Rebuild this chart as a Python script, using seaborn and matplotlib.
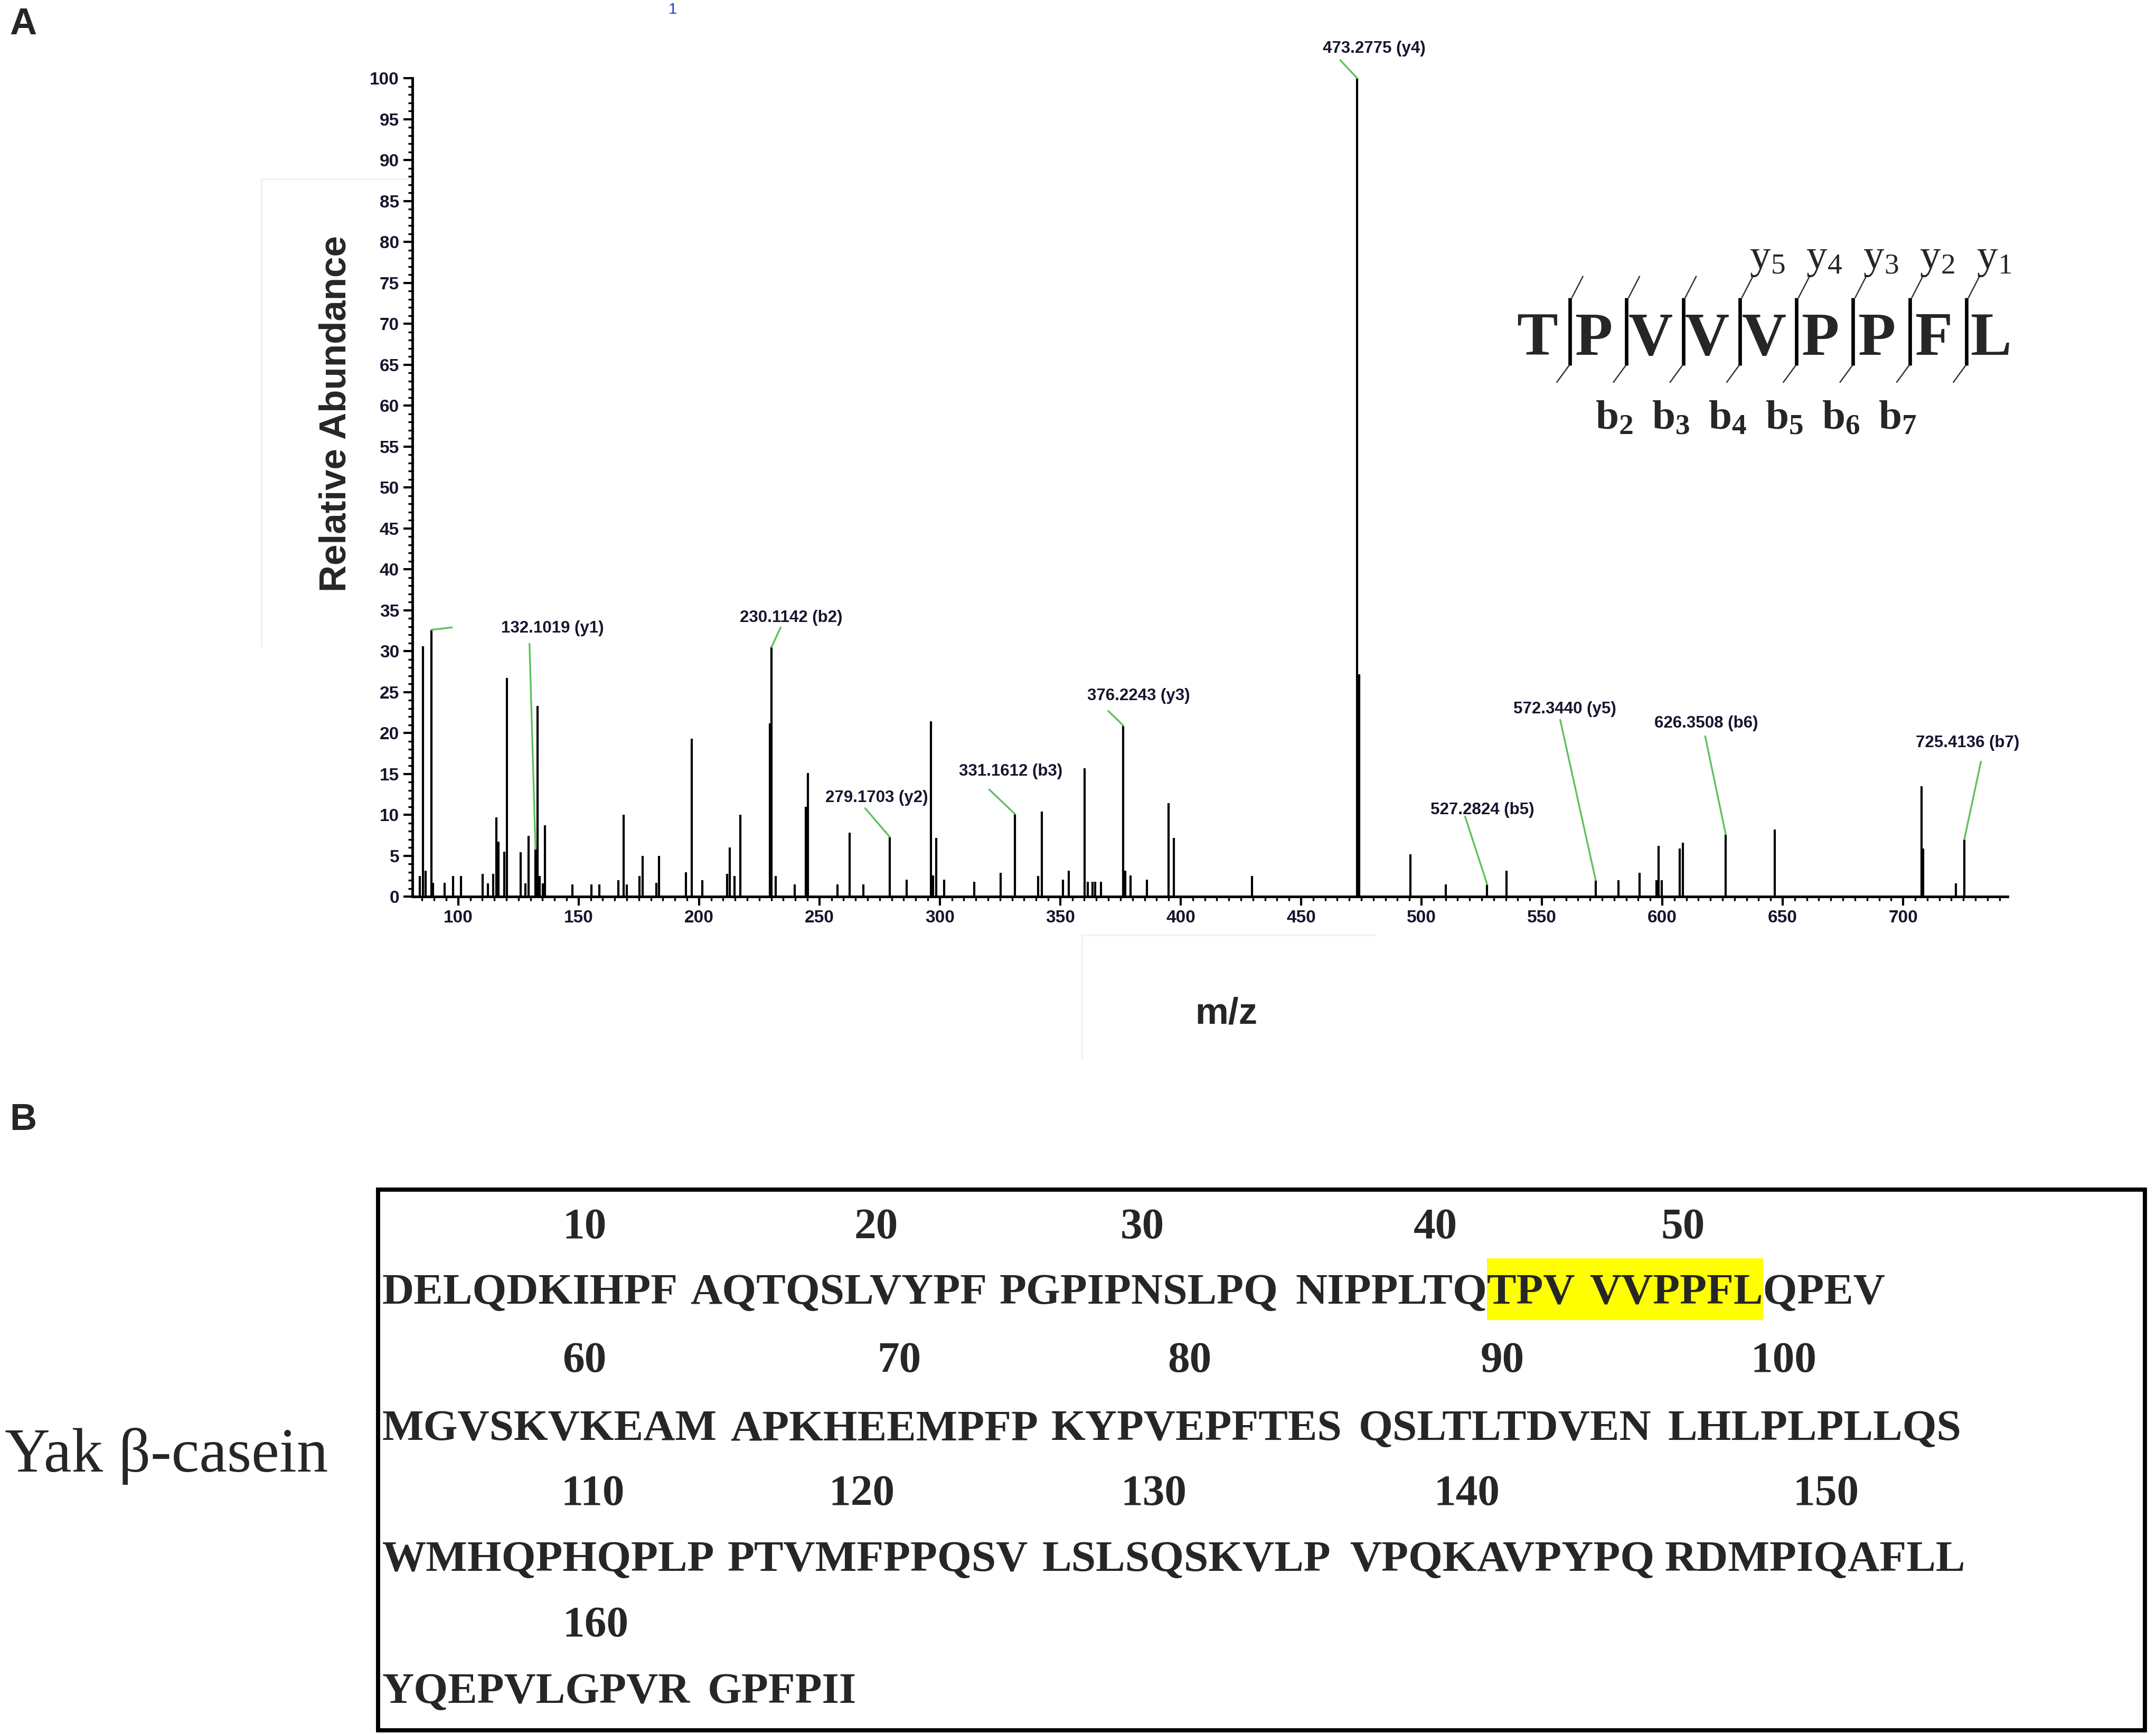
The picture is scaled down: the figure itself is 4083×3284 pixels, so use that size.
import matplotlib
matplotlib.use('Agg')
import numpy as np
import pandas as pd
import matplotlib.pyplot as plt
from matplotlib.patches import Rectangle
import seaborn as sns

# ---- panel A data: MS/MS spectrum peaks (m/z, relative abundance) ----
mz = [84.0, 85.4, 86.4, 88.9, 89.6, 94.4, 97.8, 101.1, 110.1, 112.3, 114.5, 115.8, 116.8,
      119.1, 120.3, 125.9, 127.9, 129.3, 132.1019, 132.9, 133.8, 135.1, 136.0, 147.4,
      155.3, 158.5, 166.5, 168.7, 169.9, 175.3, 176.5, 182.2, 183.4, 194.6, 196.9, 201.3,
      211.7, 212.7, 214.8, 217.2, 229.4, 230.1142, 231.8, 239.8, 244.4, 245.3, 257.4,
      262.6, 268.3, 279.1703, 286.3, 296.3, 297.2, 298.5, 301.8, 314.2, 325.3, 331.1612,
      340.8, 342.3, 351.1, 353.5, 360.1, 361.4, 363.5, 364.5, 366.8, 376.2243, 377.1,
      379.2, 385.9, 395.0, 397.2, 429.7, 473.2775, 474.1, 495.5, 510.0, 527.2824, 535.4,
      572.3440, 581.8, 590.6, 597.6, 598.5, 599.7, 607.3, 608.6, 626.3508, 646.8, 707.6,
      708.4, 722.0, 725.4136]
abundance = [2.5, 30.6, 3.2, 32.6, 1.7, 1.7, 2.5, 2.5, 2.8, 1.6, 2.8, 9.7, 6.7,
             5.5, 26.7, 5.4, 1.6, 7.4, 5.8, 23.3, 2.5, 1.6, 8.7, 1.5,
             1.5, 1.5, 2.0, 10.0, 1.5, 2.5, 5.0, 1.7, 5.0, 3.0, 19.3, 2.0,
             2.8, 6.0, 2.5, 10.0, 21.2, 30.5, 2.5, 1.5, 11.0, 15.1, 1.5,
             7.8, 1.5, 7.3, 2.1, 21.4, 2.6, 7.2, 2.1, 1.8, 2.9, 10.1,
             2.5, 10.4, 2.1, 3.2, 15.7, 1.8, 1.8, 1.8, 1.8, 20.9, 3.2,
             2.6, 2.1, 11.4, 7.2, 2.5, 100.0, 27.2, 5.2, 1.5, 1.5, 3.2,
             2.0, 2.0, 2.9, 2.0, 6.2, 2.0, 5.9, 6.6, 7.6, 8.2, 13.5,
             5.9, 1.6, 7.0]

# labelled fragment ions
ion_mz = [132.1019, 230.1142, 279.1703, 331.1612, 376.2243, 473.2775,
          527.2824, 572.3440, 626.3508, 725.4136]
ion_name = ['y1', 'b2', 'y2', 'b3', 'y3', 'y4', 'b5', 'y5', 'b6', 'b7']
# label centre and leader-line end, data coords
label_xy = [(139.2, 32.8), (238.2, 34.1), (273.7, 12.1), (329.5, 15.3), (382.6, 24.5),
            (480.3, 103.6), (525.3, 10.6), (559.5, 22.9), (618.3, 21.2), (726.8, 18.8)]
leader_end = [(129.6, 30.9), (233.9, 32.9), (269.0, 10.8), (320.5, 13.1), (369.9, 22.7),
              (466.3, 102.2), (518.1, 9.8), (557.6, 21.6), (617.8, 19.6), (732.3, 16.5)]

# ---- peptide fragment map ----
peptide = 'TPVVVPPFL'
y_ions = [5, 4, 3, 2, 1]
b_ions = [2, 3, 4, 5, 6, 7]

# ---- panel B: yak beta-casein sequence ----
casein = ('DELQDKIHPFAQTQSLVYPFPGPIPNSLPQNIPPLTQTPVVVPPFLQPEV'
          'MGVSKVKEAMAPKHEEMPFPKYPVEPFTESQSLTLTDVENLHLPLPLLQS'
          'WMHQPHQPLPPTVMFPPQSVLSLSQSKVLPVPQKAVPYPQRDMPIQAFLL'
          'YQEPVLGPVRGPFPII')
hit_start, hit_end = 38, 46      # TPVVVPPFL, 1-based
numbers = [10, 20, 30, 40, 50, 60, 70, 80, 90, 100, 110, 120, 130, 140, 150, 160]

df = pd.DataFrame({'mz': mz, 'abundance': abundance})

sns.set_theme(style='ticks')
plt.rcParams['font.family'] = ['Liberation Sans', 'DejaVu Sans']
plt.rcParams['mathtext.fontset'] = 'custom'
plt.rcParams['mathtext.rm'] = 'Liberation Serif'
plt.rcParams['mathtext.bf'] = 'Liberation Serif:bold'

fig = plt.figure(figsize=(4083 / 300, 3284 / 300), dpi=300, facecolor='white')

# overlay in reference-pixel units (1568 x 1261 preview scale)
lay = fig.add_axes([0, 0, 1, 1], zorder=0)
lay.set_xlim(0, 1568)
lay.set_ylim(1261, 0)
lay.axis('off')

ax = fig.add_axes([0.1913, 0.4829, 0.740, 0.472], zorder=2)
ax.set_facecolor('none')

# stick spectrum
ax.vlines(df['mz'], 0, df['abundance'], color='black', lw=1.0)
ax.set_xlim(81, 743.5)
ax.set_ylim(0, 100)
sns.despine(ax=ax)
for s in ['left', 'bottom']:
    ax.spines[s].set_linewidth(1.2)
    ax.spines[s].set_color('black')
ax.set_xticks(np.arange(100, 701, 50))
ax.set_xticks(np.arange(85, 741, 5), minor=True)
ax.set_yticks(np.arange(0, 101, 5))
ax.set_yticks(np.arange(0, 101, 1), minor=True)
ax.tick_params(which='major', length=4, width=1, labelsize=8, pad=2, colors='black')
ax.tick_params(which='minor', length=2, width=0.8, colors='black')
for lab in ax.get_xticklabels() + ax.get_yticklabels():
    lab.set_fontweight('bold')
    lab.set_color('#15152e')

ax.set_ylabel('Relative Abundance', fontsize=17, fontweight='bold')
ax.yaxis.set_label_coords(-0.037, 0.59)
ax.set_xlabel('m/z', fontsize=17, fontweight='bold')
ax.xaxis.set_label_coords(0.510, -0.122)

# fragment ion labels with green leaders
for m, name, (tx, ty), (lx, ly) in zip(ion_mz, ion_name, label_xy, leader_end):
    h = df.loc[(df['mz'] - m).abs().idxmin(), 'abundance']
    ax.plot([m, lx], [h, ly], color='#5cc15c', lw=0.8, clip_on=False)
    ax.text(tx, ty, f'{m:.4f} ({name})', fontsize=7.5, fontweight='bold',
            color='#15152e', ha='center', va='center')
# unlabelled leader at the 89 peak
h89 = df.loc[(df['mz'] - 88.9).abs().idxmin(), 'abundance']
ax.plot([88.9, 97.4], [h89, 32.9], color='#5cc15c', lw=0.8, clip_on=False)
ax.text(189, 108.4, '1', fontsize=7, color='#2b3bd1', ha='center', va='center')

# faint frame remnants around the axis titles
for xs, ys in [([190, 190], [130, 470]), ([190, 300], [130, 130]),
               ([787, 787], [680, 770]), ([787, 1000], [680, 680])]:
    lay.plot(xs, ys, color='#f3f3f3', lw=0.8)

# panel letters
lay.text(7, 18, 'A', fontsize=17, fontweight='bold', ha='left', va='center')
lay.text(7, 815, 'B', fontsize=17, fontweight='bold', ha='left', va='center')

# ---- peptide fragment map ----
serif = ['Liberation Serif', 'DejaVu Serif']
step = 41.2
centres = [1118 + step * i for i in range(len(peptide))]
for c, aa in zip(centres, peptide):
    lay.text(c, 258, aa, fontsize=28, fontweight='bold', family=serif,
             ha='center', va='baseline')
bars = [centres[i + 1] - 17.5 for i in range(len(peptide) - 1)]
for bx in bars:
    lay.plot([bx, bx], [216.5, 265.7], color='black', lw=1.6, solid_capstyle='butt')
    lay.plot([bx + 1.5, bx + 9.5], [216.5, 201], color='#333333', lw=0.6)
    lay.plot([bx - 0.5, bx - 9.5], [265.7, 278], color='#333333', lw=0.6)
for k in y_ions:
    bx = bars[len(peptide) - 1 - k]
    lay.text(bx + 20, 188, r'$\mathrm{y_{%d}}$' % k, fontsize=19,
             ha='center', va='center')
for k in b_ions:
    bx = bars[k - 1]
    lay.text(bx - 9, 304, r'$\mathbf{b_{%d}}$' % k, fontsize=19,
             ha='center', va='center')

# ---- panel B: sequence box ----
lay.add_patch(Rectangle((716 / 2.604, 865), 1560 - 716 / 2.604, 393.5, fill=False,
                        edgecolor='black', lw=1.9))
lay.text(3.5, 1059, 'Yak β-casein', fontsize=28.5, family=serif, ha='left', va='center')

blocks = [casein[i:i + 10] for i in range(0, len(casein), 10)]
block_x = [278, 502, 726.8, 942.2, 1156,
           278, 531, 764.3, 988, 1212.8,
           278, 529, 758, 981.5, 1210.7,
           278, 514.4]
seq_y = [940.5, 1039.8, 1135, 1231]
num_y = [893, 990, 1087, 1182.5]
num_x = [425, 637.2, 830.8, 1044, 1223.9,
         425, 653.9, 865, 1092.8, 1297.2,
         431.2, 626.8, 839, 1066.6, 1327.8,
         433.3]
seq_font = dict(fontsize=20, fontweight='bold', family=serif)

renderer = fig.canvas.get_renderer()


def text_width(s):
    t = lay.text(0, 0, s, **seq_font)
    w = t.get_window_extent(renderer).width
    t.remove()
    return w / fig.bbox.width * 1568


# highlight of the identified peptide
b_first, b_last = (hit_start - 1) // 10, (hit_end - 1) // 10
x0 = block_x[b_first] + text_width(blocks[b_first][:(hit_start - 1) % 10])
x1 = block_x[b_last] + text_width(blocks[b_last][:(hit_end - 1) % 10 + 1])
lay.add_patch(Rectangle((x0, 915), x1 - x0, 45, facecolor='#ffff00',
                        edgecolor='none', zorder=0))

for i, blk in enumerate(blocks):
    lay.text(block_x[i], seq_y[i // 5], blk, ha='left', va='center', zorder=2, **seq_font)
for n, nx in zip(numbers, num_x):
    lay.text(nx, num_y[(n - 1) // 50], str(n), ha='center', va='center', **seq_font)

fig.savefig('out.png', dpi=300, facecolor='white')
